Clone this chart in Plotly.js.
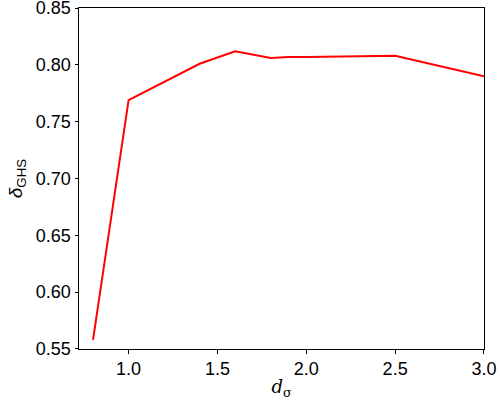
<!DOCTYPE html>
<html>
<head>
<meta charset="utf-8">
<script src="https://cdn.plot.ly/plotly-3.0.1.min.js"></script>
<style>html,body{margin:0;padding:0;background:#fff;}#chart{width:500px;height:400px;}</style>
</head>
<body>
<div id="chart"></div>
<script>
const dSigma = [0.8, 1.0, 1.4, 1.6, 1.8, 1.9, 2.0, 2.5, 3.0];
const deltaGHS = [0.558, 0.769, 0.801, 0.812, 0.806, 0.807, 0.807, 0.808, 0.790];
const xTicks = [1.0, 1.5, 2.0, 2.5, 3.0];
const yTicks = [0.55, 0.60, 0.65, 0.70, 0.75, 0.80, 0.85];

const font = {family: 'Liberation Sans, DejaVu Sans, sans-serif', size: 18, color: '#000'};
const axisCommon = {
  showgrid: false, zeroline: false, showline: true, mirror: true,
  linecolor: '#000', linewidth: 1, ticks: 'outside', ticklen: 3.5, tickwidth: 1,
  tickcolor: '#000', tickfont: font, ticklabeloverflow: 'allow'
};
Plotly.newPlot('chart', [{
  x: dSigma, y: deltaGHS, type: 'scatter', mode: 'lines',
  line: {color: '#ff0000', width: 2}
}], {
  width: 500, height: 400,
  margin: {l: 79, r: 16, t: 8, b: 51},
  paper_bgcolor: '#fff', plot_bgcolor: '#fff',
  showlegend: false,
  xaxis: Object.assign({}, axisCommon, {
    range: [0.721, 3.0001], tickvals: xTicks, ticktext: xTicks.map(v => v.toFixed(1)),
    title: {text: '<i>d</i><sub>σ</sub>', font: {family: 'DejaVu Serif, serif', size: 18, color: '#000'}, standoff: 2}
  }),
  yaxis: Object.assign({}, axisCommon, {
    range: [0.5499, 0.8501], tickvals: yTicks, ticktext: yTicks.map(v => v.toFixed(2)),
    title: {text: '<i>δ</i><sub>GHS</sub>', font: {family: 'Liberation Sans, DejaVu Sans, sans-serif', size: 19, color: '#000'}, standoff: 8}
  })
}, {staticPlot: true});
</script>
</body>
</html>
